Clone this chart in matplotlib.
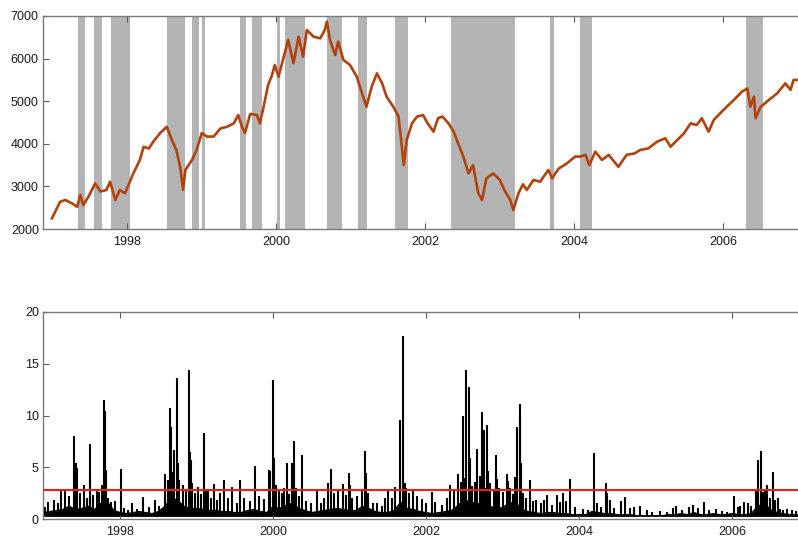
import numpy as np
import matplotlib
matplotlib.use("Agg")
import matplotlib.pyplot as plt

plt.rcParams['font.family'] = ['Liberation Sans', 'DejaVu Sans']

# top panel: index level (decimal years)
price_t = [1996.99, 1997.10, 1997.17, 1997.26, 1997.33, 1997.37, 1997.41, 1997.48, 1997.57, 1997.64,
           1997.72, 1997.77, 1997.84, 1997.90, 1997.97, 1998.01, 1998.08, 1998.17, 1998.22, 1998.29,
           1998.35, 1998.44, 1998.53, 1998.60, 1998.66, 1998.71, 1998.75, 1998.78, 1998.87, 1998.93,
           1999.00, 1999.07, 1999.16, 1999.25, 1999.34, 1999.43, 1999.49, 1999.54, 1999.58, 1999.65,
           1999.74, 1999.78, 1999.83, 1999.89, 1999.94, 1999.98, 2000.03, 2000.10, 2000.16, 2000.23,
           2000.30, 2000.36, 2000.41, 2000.50, 2000.59, 2000.65, 2000.68, 2000.72, 2000.79, 2000.83,
           2000.90, 2000.99, 2001.08, 2001.15, 2001.21, 2001.28, 2001.35, 2001.42, 2001.48, 2001.57,
           2001.64, 2001.68, 2001.71, 2001.75, 2001.82, 2001.89, 2001.97, 2002.03, 2002.11, 2002.17,
           2002.23, 2002.31, 2002.38, 2002.44, 2002.51, 2002.58, 2002.64, 2002.71, 2002.76, 2002.82,
           2002.91, 2003.00, 2003.06, 2003.14, 2003.18, 2003.25, 2003.31, 2003.36, 2003.45, 2003.54,
           2003.65, 2003.70, 2003.79, 2003.90, 2004.01, 2004.08, 2004.15, 2004.20, 2004.28, 2004.37,
           2004.46, 2004.59, 2004.70, 2004.81, 2004.88, 2004.99, 2005.11, 2005.22, 2005.29, 2005.38,
           2005.47, 2005.56, 2005.64, 2005.71, 2005.80, 2005.87, 2006.00, 2006.14, 2006.25, 2006.32,
           2006.36, 2006.41, 2006.43, 2006.50, 2006.61, 2006.72, 2006.83, 2006.90, 2006.94, 2006.99]
price_v = [2250, 2640, 2680, 2600, 2520, 2800, 2560, 2760, 3070, 2880,
           2915, 3110, 2680, 2915, 2840, 3000, 3300, 3620, 3930, 3890,
           4050, 4250, 4400, 4090, 3850, 3460, 2920, 3385, 3620, 3850,
           4250, 4170, 4170, 4360, 4400, 4480, 4675, 4400, 4250, 4700,
           4675, 4480, 4870, 5380, 5600, 5850, 5575, 6045, 6440, 5890,
           6515, 6045, 6670, 6515, 6475, 6670, 6870, 6440, 6085, 6400,
           5970, 5850, 5575, 5185, 4870, 5340, 5655, 5420, 5105, 4870,
           4640, 4010, 3500, 4090, 4480, 4640, 4675, 4480, 4285, 4600,
           4640, 4480, 4285, 4010, 3700, 3305, 3500, 2840, 2680, 3190,
           3305, 3150, 2915, 2680, 2445, 2840, 3050, 2915, 3150, 3110,
           3385, 3190, 3420, 3540, 3700, 3700, 3740, 3500, 3815, 3620,
           3740, 3460, 3740, 3775, 3855, 3890, 4050, 4130, 3930, 4090,
           4245, 4480, 4440, 4600, 4285, 4560, 4795, 5030, 5225, 5300,
           4870, 5105, 4600, 4870, 5030, 5185, 5420, 5265, 5500, 5500]

# shaded periods (start, end)
band_start = [1997.34, 1997.55, 1997.78, 1998.53, 1998.87, 1999.01, 1999.51, 1999.68, 2000.01,
              2000.12, 2000.68, 2001.09, 2001.59, 2002.34, 2003.67, 2004.08, 2006.30]
band_end = [1997.43, 1997.66, 1998.04, 1998.78, 1998.96, 1999.05, 1999.60, 1999.81, 2000.05,
            2000.39, 2000.88, 2001.22, 2001.77, 2003.20, 2003.73, 2004.24, 2006.53]

# bottom panel: monthly background level
base_v = [0.6, 0.7, 0.8, 0.9, 1.2, 0.9, 1.0, 1.2, 0.9, 1.5, 1.6, 0.8,
          0.6, 0.5, 0.6, 0.7, 0.6, 0.5, 0.7, 1.2, 2.0, 1.8, 1.2, 1.0,
          1.0, 0.9, 0.8, 0.8, 0.7, 0.7, 0.6, 0.6, 0.8, 0.9, 0.7, 0.6,
          1.2, 1.0, 1.3, 1.5, 1.0, 0.8, 0.6, 0.7, 0.8, 0.9, 1.0, 0.9,
          0.8, 0.8, 1.2, 1.0, 0.7, 0.6, 0.6, 0.8, 1.6, 1.0, 0.9, 0.7,
          0.6, 0.5, 0.6, 0.7, 0.8, 1.3, 1.8, 1.6, 1.5, 1.4, 1.2, 1.0,
          1.1, 1.5, 1.6, 0.9, 0.7, 0.6, 0.5, 0.6, 0.6, 0.5, 0.5, 0.4,
          0.4, 0.4, 0.7, 0.6, 0.5, 0.5, 0.4, 0.4, 0.4, 0.3, 0.3, 0.3,
          0.3, 0.3, 0.4, 0.4, 0.5, 0.4, 0.6, 0.4, 0.4, 0.5, 0.4, 0.4,
          0.5, 0.4, 0.4, 0.5, 1.2, 1.5, 0.9, 0.6, 0.5, 0.4, 0.4, 0.4]
base_t = [1997.0 + i / 12.0 for i in range(len(base_v))]

# bottom panel: spikes (date, height)
spike_t = [1997.06, 1997.13, 1997.23, 1997.28, 1997.40, 1997.42, 1997.43, 1997.53, 1997.60, 1997.61,
           1997.69, 1997.76, 1997.79, 1997.80, 1997.81, 1997.93, 1998.01, 1998.16, 1998.30, 1998.45,
           1998.58, 1998.65, 1998.66, 1998.70, 1998.74, 1998.75, 1998.90, 1998.91, 1998.92, 1999.02,
           1999.09, 1999.15, 1999.22, 1999.36, 1999.46, 1999.57, 1999.76, 1999.95, 1999.96, 2000.00,
           2000.01, 2000.11, 2000.18, 2000.24, 2000.27, 2000.38, 2000.57, 2000.71, 2000.76, 2000.91,
           2000.99, 2001.00, 2001.20, 2001.21, 2001.35, 2001.50, 2001.59, 2001.66, 2001.69, 2001.70,
           2001.72, 2001.83, 2001.94, 2002.07, 2002.31, 2002.42, 2002.48, 2002.52, 2002.56, 2002.57,
           2002.67, 2002.73, 2002.75, 2002.80, 2002.81, 2002.91, 2002.93, 2003.05, 2003.07, 2003.16,
           2003.19, 2003.22, 2003.23, 2003.24, 2003.36, 2003.43, 2003.58, 2003.71, 2003.79, 2003.88,
           2004.19, 2004.35, 2004.36, 2004.54, 2004.60, 2004.79, 2004.88, 2005.27, 2005.49, 2005.63,
           2005.79, 2006.02, 2006.10, 2006.34, 2006.37, 2006.38, 2006.46, 2006.53, 2006.60, 2006.62,
           2006.78,
           1997.02, 1997.18, 1997.33, 1997.47, 1997.56, 1997.65, 1997.72, 1997.84, 1997.88, 1998.05,
           1998.10, 1998.22, 1998.38, 1998.50, 1998.62, 1998.68, 1998.77, 1998.82, 1998.86, 1998.94,
           1998.98, 1999.05, 1999.12, 1999.19, 1999.26, 1999.30, 1999.41, 1999.52, 1999.62, 1999.70,
           1999.82, 1999.88, 2000.03, 2000.07, 2000.14, 2000.21, 2000.30, 2000.34, 2000.43, 2000.50,
           2000.63, 2000.67, 2000.80, 2000.85, 2000.95, 2001.03, 2001.10, 2001.16, 2001.24, 2001.30,
           2001.42, 2001.46, 2001.55, 2001.73, 2001.77, 2001.88, 2002.00, 2002.12, 2002.20, 2002.27,
           2002.36, 2002.45, 2002.50, 2002.60, 2002.64, 2002.70, 2002.77, 2002.84, 2002.88, 2002.95,
           2003.00, 2003.10, 2003.13, 2003.26, 2003.31, 2003.40, 2003.50, 2003.54, 2003.64, 2003.75,
           2003.83, 2003.95, 2004.05, 2004.12, 2004.23, 2004.29, 2004.40, 2004.46, 2004.66, 2004.72,
           2004.95, 2005.05, 2005.15, 2005.22, 2005.35, 2005.43, 2005.55, 2005.70, 2005.86, 2005.93,
           2006.08, 2006.15, 2006.20, 2006.25, 2006.31, 2006.40, 2006.43, 2006.50, 2006.56, 2006.66,
           2006.72, 2006.84, 2006.90]
spike_v = [1.6, 1.8, 2.9, 2.8, 8.0, 5.4, 4.9, 3.3, 7.2, 4.1,
           2.9, 3.3, 11.5, 10.4, 4.7, 1.7, 4.8, 1.5, 2.1, 1.8,
           4.3, 10.7, 8.9, 6.7, 13.6, 5.4, 14.4, 6.5, 5.7, 3.1,
           8.3, 2.8, 3.4, 3.8, 3.1, 3.8, 5.1, 4.7, 4.6, 13.4,
           5.9, 2.5, 5.4, 5.4, 7.5, 6.2, 2.8, 3.5, 4.8, 3.4,
           4.4, 3.3, 6.6, 4.4, 1.5, 2.9, 3.1, 9.6, 17.7, 3.7,
           3.5, 2.9, 1.9, 2.6, 3.3, 4.3, 10.0, 14.4, 12.8, 5.9,
           6.8, 10.3, 8.6, 9.1, 4.6, 6.2, 3.9, 4.3, 3.7, 4.1,
           8.9, 11.1, 10.2, 5.4, 3.8, 1.8, 2.3, 2.3, 2.5, 3.9,
           6.4, 3.5, 2.5, 1.7, 2.1, 1.3, 0.9, 1.3, 1.4, 1.6,
           1.0, 2.2, 1.3, 5.7, 6.6, 2.2, 3.3, 4.5, 2.0, 1.0,
           0.9,
           1.2, 1.5, 2.2, 2.5, 2.0, 2.3, 2.6, 2.0, 1.6, 1.1,
           0.9, 1.0, 1.2, 1.3, 3.8, 4.5, 3.8, 3.3, 2.9, 3.5,
           2.5, 2.4, 2.7, 2.0, 1.8, 2.5, 2.0, 1.5, 2.0, 1.7,
           2.2, 1.9, 3.3, 2.7, 3.0, 2.4, 3.0, 2.2, 1.7, 1.5,
           1.5, 2.0, 2.5, 2.8, 2.3, 2.0, 2.2, 2.9, 2.5, 1.5,
           1.3, 2.0, 2.0, 3.0, 2.5, 2.2, 1.5, 1.6, 1.4, 2.0,
           2.8, 3.6, 4.0, 3.2, 3.6, 4.2, 3.0, 3.5, 2.8, 3.0,
           2.6, 3.0, 2.4, 2.5, 2.0, 1.7, 1.5, 1.8, 1.4, 1.6,
           1.7, 1.2, 1.0, 0.9, 1.5, 1.2, 1.8, 1.1, 1.1, 1.2,
           0.7, 0.8, 0.7, 1.1, 0.9, 1.2, 1.1, 0.9, 0.8, 0.7,
           1.2, 1.6, 1.5, 1.3, 2.8, 2.6, 2.9, 2.0, 1.8, 0.9,
           1.0, 0.8, 0.8]

threshold = 2.85

fig = plt.figure(figsize=(7.98, 5.39), dpi=100)
ax1 = fig.add_axes([43 / 798, 1 - 229 / 539, 1 - 43 / 798, 213 / 539])
ax2 = fig.add_axes([43 / 798, 1 - 519 / 539, 1 - 43 / 798, 207 / 539])

for s, e in zip(band_start, band_end):
    ax1.axvspan(s, e, color='#b4b4b4', lw=0, zorder=0)
ax1.plot(price_t, price_v, color='#b2420c', lw=1.9, zorder=2)
ax1.set_xlim(1996.87, 2007.0)
ax1.set_ylim(2000, 7000)
ax1.set_yticks([2000, 3000, 4000, 5000, 6000, 7000])

ax2.fill_between(base_t, 0.25, base_v, color='black', lw=0, zorder=1)
ax2.plot(base_t, base_v, color='black', lw=1.2, zorder=2)
ax2.vlines(spike_t, 0.25, spike_v, color='black', lw=1.5, zorder=2)
ax2.axhline(threshold, color='#ee1c1c', lw=1.5, zorder=3)
ax2.set_xlim(1996.99, 2006.86)
ax2.set_ylim(0, 20)
ax2.set_yticks([0, 5, 10, 15, 20])

for ax in (ax1, ax2):
    ax.set_xticks([1998, 2000, 2002, 2004, 2006])
    ax.set_xticklabels(['1998', '2000', '2002', '2004', '2006'])
    ax.spines['right'].set_visible(False)
    for sp in ('left', 'bottom', 'top'):
        ax.spines[sp].set_color('#7a7a7a')
        ax.spines[sp].set_linewidth(1.0)
    ax.tick_params(axis='both', direction='in', length=4, width=0.8, color='#5a5a5a',
                   labelsize=9, labelcolor='#1a1a1a', top=True, right=False)
    ax.tick_params(axis='x', pad=5)
    ax.tick_params(axis='y', pad=3)

fig.savefig('out.png', dpi=100)
